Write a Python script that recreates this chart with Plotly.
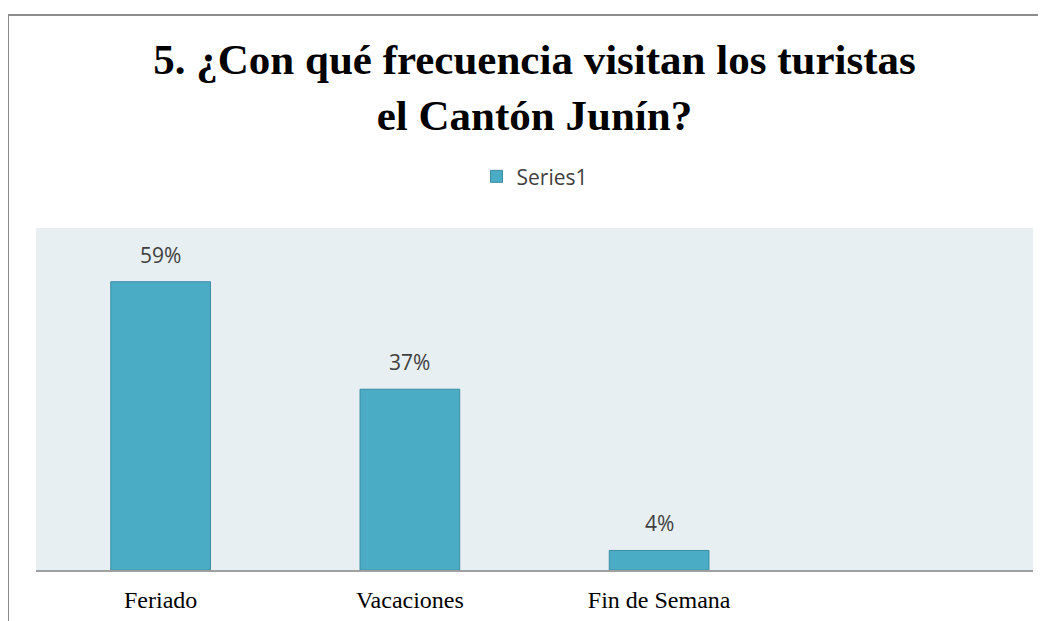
import plotly.graph_objects as go

categorias = ["Feriado", "Vacaciones", "Fin de Semana"]
valores = [0.59, 0.37, 0.04]
serie = "Series1"
titulo = "5. ¿Con qué frecuencia visitan los turistas<br>el Cantón Junín?"

fig = go.Figure()
fig.add_trace(go.Bar(
    x=categorias, y=valores, name=serie,
    width=0.4,
    marker=dict(color="#4BACC6", line=dict(color="#3B8CA3", width=1)),
    showlegend=True,
))

# data labels, a little above each bar
for cat, val in zip(categorias, valores):
    fig.add_annotation(x=cat, y=val, text=f"{val:.0%}", showarrow=False,
                       yanchor="bottom", yshift=11,
                       font=dict(family="Open Sans", size=21, color="#404040"))

# chart border (open on the right and bottom, like the cropped original)
fig.add_shape(type="rect", xref="paper", yref="paper",
              x0=-0.0281, x1=1.2, y0=-0.4, y1=1.623,
              line=dict(color="#8C8C8C", width=2), layer="below")

fig.update_layout(
    width=1046, height=621,
    margin=dict(l=28, r=21, t=220, b=59),
    paper_bgcolor="white", plot_bgcolor="#E8EFF2",
    title=dict(text=titulo, x=0.5, xref="paper", xanchor="center",
               y=0.893, yanchor="middle",
               font=dict(family="Liberation Serif", size=43, color="black", weight="bold")),
    legend=dict(orientation="h", x=0.5, xanchor="center", y=1.15, yanchor="middle",
                font=dict(family="Open Sans", size=21, color="#404040"),
                itemwidth=30, bgcolor="rgba(0,0,0,0)"),
    xaxis=dict(range=[-0.5, 3.5], showgrid=False, showline=True, linecolor="#A0A0A0",
               linewidth=1.5, ticks="", ticklen=0, ticklabelstandoff=7,
               tickfont=dict(family="Liberation Serif", size=24, color="black")),
    yaxis=dict(range=[0, 0.7], visible=False, showgrid=False),
)

fig.write_html("out.html")
